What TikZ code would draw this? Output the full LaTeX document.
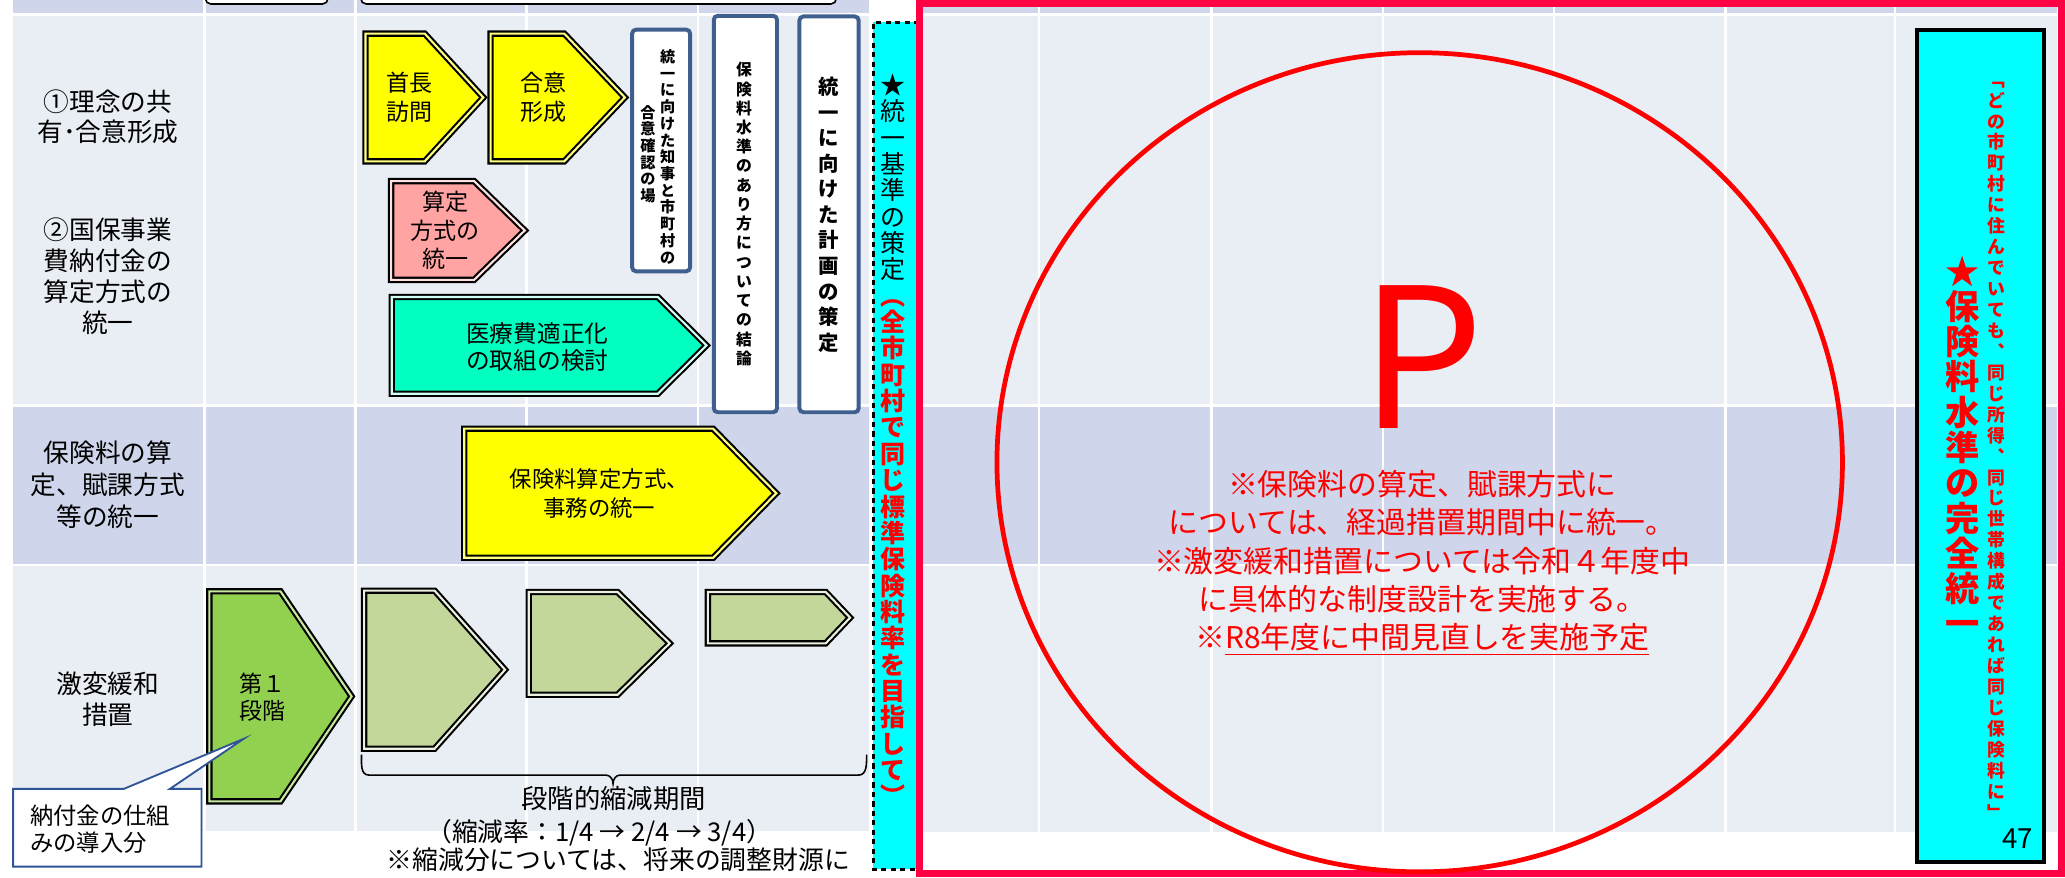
\documentclass[tikz,border=0pt]{standalone}
\usepackage{fontspec}
\setmainfont{Noto Sans CJK JP}
\definecolor{lightrow}{HTML}{E9EDF4}
\definecolor{darkrow}{HTML}{CFD5EA}
\definecolor{boxblue}{HTML}{3F5F8F}
\definecolor{callblue}{HTML}{2F5597}
\definecolor{framered}{HTML}{FF0045}
\definecolor{ayellow}{HTML}{FFFF00}
\definecolor{ayellowgap}{HTML}{FFFF80}
\definecolor{apink}{HTML}{FFA3A3}
\definecolor{apinkgap}{HTML}{FFE0E0}
\definecolor{ateal}{HTML}{00FFC0}
\definecolor{atealgap}{HTML}{D0FFF4}
\definecolor{agreen}{HTML}{92D050}
\definecolor{agreengap}{HTML}{C8E8A0}
\definecolor{aolive}{HTML}{C4D79B}
\definecolor{aolivegap}{HTML}{EBF1DE}
\definecolor{cyanbox}{HTML}{00FFFF}
\ExplSyntaxOn
\NewDocumentCommand\vcells{m m}{
  \tl_map_inline:nn {#2} { \hbox_to_wd:nn {1em} { \hss #1 ##1 \hss } }
}
\NewDocumentCommand\vset{m}{
  \baselineskip=#1 \lineskip=0pt \lineskiplimit=-\maxdimen
}
\ExplSyntaxOff
\newcommand\fs[2]{\fontsize{#1pt}{#2pt}\selectfont}
\newcommand\ulx[1]{\sbox0{#1}\rlap{\rule[-2.6pt]{\wd0}{0.65pt}}\usebox0}
\newcommand\penta[6]{\path[#1] (#2,#3) -- (#6,#3) -- (#4,{(#3+#5)/2}) -- (#6,#5) -- (#2,#5) -- cycle;}
\tikzset{
  grid/.style={draw=white, line width=1pt},
  arrowbox/.style={draw=black, line width=0.8pt, double distance=0.8pt, line join=miter},
  yarrow/.style={arrowbox, fill=ayellow, double=ayellowgap},
  parrow/.style={arrowbox, fill=apink, double=apinkgap},
  tarrow/.style={arrowbox, fill=ateal, double=atealgap},
  garrow/.style={arrowbox, fill=agreen, double=agreengap},
  oarrow/.style={arrowbox, fill=aolive, double=aolivegap},
  whitebox/.style={draw=boxblue, line width=1.5pt, fill=white, rounded corners=1.5pt},
  topbox/.style={draw=black, line width=0.6pt, fill=white, rounded corners=2pt},
  lbl/.style={align=center, font={\fs{9.75}{11.75}}},
  atext/.style={align=center, font={\fs{8.75}{11}}},
}
\begin{document}
\begin{tikzpicture}[x=0.5pt,y=-0.5pt, every node/.style={inner sep=0pt, outer sep=0pt}]
\fill[white] (0,0) rectangle (1568,666);
\useasboundingbox (0,0) rectangle (1568,666);
% left table
\fill[lightrow] (10,0) rectangle (660,631);
\fill[darkrow] (10,0) rectangle (660,11);
\fill[darkrow] (10,308) rectangle (660,429);
\foreach \yy in {11,308,429} \draw[grid] (10,\yy) -- (660,\yy);
\foreach \xx in {155.5,270,400,530} \draw[grid] (\xx,0) -- (\xx,631);
% right table
\fill[lightrow] (701,0) rectangle (1562,632);
\fill[darkrow] (701,0) rectangle (1562,11);
\fill[darkrow] (701,308) rectangle (1562,429);
\foreach \yy in {11,308,429} \draw[grid] (701,\yy) -- (1562,\yy);
\foreach \xx in {789,920,1050,1180,1310,1439} \draw[grid] (\xx,0) -- (\xx,632);
% top partial boxes
\draw[topbox] (156,-12) rectangle (249,3);
\draw[topbox] (274,-12) rectangle (635,3);
% row labels
\node[lbl, font={\fs{9.75}{11.5}}] (lab1) at (82,88.5) {①理念の共\\有･合意形成};
\node[lbl] (lab2) at (82,210) {②国保事業\\費納付金の\\算定方式の\\統一};
\node[lbl, font={\fs{9.75}{12}}] (lab3) at (82,368) {保険料の算\\定、賦課方式\\等の統一};
\node[lbl, font={\fs{9.75}{12}}] (lab4) at (82,531) {激変緩和\\措置};
% arrows row 1
\penta{yarrow}{277.5}{25.5}{367}{122.5}{322.5}
\node[atext] (shucho) at (311,74) {首長\\訪問};
\penta{yarrow}{372.5}{25.5}{474.5}{122.5}{428.5}
\node[atext] (goi) at (413,74) {合意\\形成};
\penta{parrow}{297}{137.5}{398.5}{212.5}{360}
\node[atext, font={\fs{8.75}{10.75}}] (santei) at (338,175) {算定\\方式の\\統一};
\penta{tarrow}{297.5}{225.5}{536.5}{299}{499.5}
\node[atext, font={\fs{9}{10.5}}] (iryo) at (408,263.5) {医療費適正化\\の取組の検討};
% vertical white boxes
\draw[whitebox] (480,22.5) rectangle (524,206);
\node (chiji1) at (507,119) {\fs{5.75}{5.75}\vbox{\vset{6.35pt}\vcells{\bfseries}{統一に向けた知事と市町村の}}};
\node (chiji2) at (492,117) {\fs{5.75}{5.75}\vbox{\vset{6.35pt}\vcells{\bfseries}{合意確認の場}}};
\draw[whitebox] (542,12) rectangle (590,313);
\node (suijun) at (565,162.5) {\fs{6}{6}\vbox{\vset{7.3pt}\vcells{\bfseries}{保険料水準のあり方についての結論}}};
\draw[whitebox] (607,12.5) rectangle (652,313);
\node (keikaku) at (629,163) {\fs{7.75}{7.75}\vbox{\vset{9.7pt}\vcells{\bfseries}{統一に向けた計画の策定}}};
% row 2
\penta{yarrow}{352.5}{325.5}{589.5}{423.5}{541.5}
\node[atext, font={\fs{8.5}{11}}] (hokenryo) at (455,375) {保険料算定方式、\\事務の統一};
% row 3
\penta{garrow}{159}{449}{267}{608.5}{213}
\node[atext, font={\fs{8.75}{10.5}}] (dai1) at (199,529.5) {第１\\段階};
\penta{oarrow}{276.5}{448.5}{383.5}{568.5}{330}
\penta{oarrow}{401.5}{449.5}{508.5}{527.5}{469}
\penta{oarrow}{537.5}{449.5}{645.5}{488.5}{627}
% brace
\coordinate (brL) at (274.5,573);
\coordinate (brM) at (465.5,595);
\coordinate (brR) at (658,573);
\draw[black, line width=0.6pt] (brL) to[out=-90,in=180] (280,588.5) -- (460,588.5) to[out=0,in=90] (brM) to[out=90,in=180] (471,588.5) -- (652,588.5) to[out=0,in=-90] (brR);
\node[font={\fs{10}{10}}] (period) at (466,606) {段階的縮減期間};
\node[font={\fs{9.8}{10}}] (rate) at (455,632) {（縮減率：1/4 → 2/4 → 3/4）};
\node[font={\fs{9.8}{10}}] (zaigen) at (469.5,653) {※縮減分については、将来の調整財源に};
% callout
\draw[fill=white, draw=callblue, line width=0.7pt] (10,599) -- (94,599) -- (185,561) -- (129,599) -- (153,599) -- (153,658) -- (10,658) -- cycle;
\node[anchor=west, align=left, font={\fs{8.85}{10.5}}] (callout) at (23,629.5) {納付金の仕組\\みの導入分};
% cyan dotted box
\fill[cyanbox] (663,17) rectangle (698,660);
\draw[black, line width=1.25pt, dash pattern=on 2pt off 1.6pt] (698,17) -- (663,17) -- (663,660) -- (698,660);
\node (kijun) at (678,334) {\fs{9.5}{9.5}\vbox{\vset{10pt}\vcells{}{★統一基準の策定}\vcells{\color{red}\bfseries}{︵全市町村で同じ標準保険料率を目指して︶}}};
% red frame
\draw[framered, line width=2.75pt] (698,2.75) rectangle (1565.25,663.25);
% circle and texts
\draw[red, line width=1.8pt] (1078,351) ellipse [x radius=321, y radius=311];
\node[text=red, font={\fs{74}{74}}] (bigP) at (1080,271) {P};
\node[align=center, text=red, font={\fs{11.35}{14.5}}] (note) at (1080,427.4) {※保険料の算定、賦課方式に\\については、経過措置期間中に統一。\\※激変緩和措置については令和４年度中\\に具体的な制度設計を実施する。\\※\ulx{R8年度に中間見直しを実施予定}};
% right cyan box
\draw[black, line width=1.5pt, fill=cyanbox] (1455.5,22.5) rectangle (1552,654.5);
\node (kanzen) at (1490.5,339) {\fs{13}{13}\vbox{\vset{13.4pt}\vcells{\color{red}\bfseries}{★保険料水準の完全統一}}};
\node (dono) at (1516,342) {\fs{6.75}{6.75}\vbox{\vset{7.95pt}\vcells{\color{red}\bfseries}{﹁どの市町村に住んでいても︑同じ所得︑同じ世帯構成であれば同じ保険料に﹂}}};
\node[font={\fs{10.5}{10.5}}] (pagenum) at (1532,637) {47};
\end{tikzpicture}
\end{document}
